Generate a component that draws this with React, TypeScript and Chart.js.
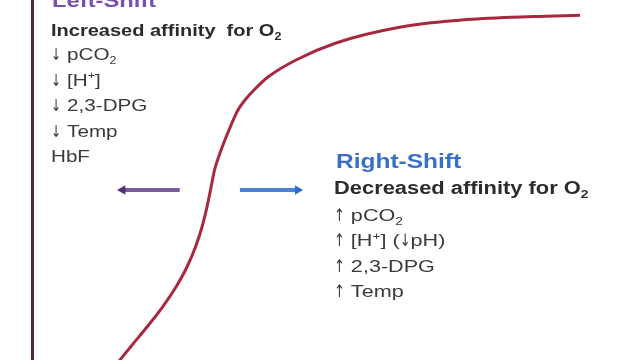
import { useEffect, useRef } from "react";
import { Chart, registerables } from "chart.js";

Chart.register(...registerables);

// Oxygen dissociation curve (cropped view), partial pressure vs saturation (%)
const pO2 = [12.83, 14.47, 16.2, 18.91, 21.46, 23.68, 25.49, 26.89, 27.96, 28.78, 29.36, 30.02, 30.92, 32.4, 33.88, 35.03, 36.51, 38.82, 43.42, 50.0, 60.69, 71.55, 82.4, 90.13];
const saturation = [-3.61, 0, 3.61, 9.17, 14.72, 20.28, 25.83, 31.39, 36.94, 42.5, 47.22, 52.78, 57.5, 63.89, 69.44, 72.22, 75.0, 78.61, 83.33, 88.06, 92.5, 94.58, 95.42, 95.75];

// Shift arrows: [tail, head] on the pO2 axis, at a common saturation level
const leftArrowX = [24.3, 14.9];
const rightArrowX = [34.2, 43.7];
const arrowLevel = 47.2;

const leftTitle = "Left-Shift";
const leftSubtitle = "Increased affinity  for O₂";
const leftItems = ["↓ pCO₂", "↓ [H⁺]", "↓ 2,3-DPG", "↓ Temp", "HbF"];

const rightTitle = "Right-Shift";
const rightSubtitle = "Decreased affinity for O₂";
const rightItems = ["↑ pCO₂", "↑ [H⁺] (↓pH)", "↑ 2,3-DPG", "↑ Temp"];

const FONT = "'Liberation Sans', Arial, sans-serif";
const SX = 1.25;

function drawRich(ctx: CanvasRenderingContext2D, text: string, x: number, y: number, size: number, weight: string, color: string) {
  ctx.save();
  ctx.translate(x, y);
  ctx.scale(SX, 1);
  ctx.fillStyle = color;
  ctx.textBaseline = "alphabetic";
  ctx.textAlign = "left";
  let cx = 0;
  const parts = text.split(/([₂⁺↑↓])/);
  for (const p of parts) {
    if (!p) continue;
    if (p === "₂" || p === "⁺") {
      const s = Math.round(size * 0.62);
      ctx.font = `${weight} ${s}px ${FONT}`;
      const ch = p === "₂" ? "2" : "+";
      const dy = p === "₂" ? size * 0.22 : -size * 0.38;
      ctx.fillText(ch, cx, dy);
      cx += ctx.measureText(ch).width;
    } else if (p === "↑" || p === "↓") {
      ctx.font = `normal ${size}px 'DejaVu Sans', sans-serif`;
      ctx.save();
      ctx.scale(0.6, 1);
      ctx.fillText(p, cx / 0.6, 0);
      ctx.restore();
      cx += ctx.measureText(p).width * 0.6;
    } else {
      ctx.font = `${weight} ${size}px ${FONT}`;
      ctx.fillText(p, cx, 0);
      cx += ctx.measureText(p).width;
    }
  }
  ctx.restore();
}

const textPlugin = {
  id: "shiftText",
  afterDatasetsDraw(chart: any) {
    const ctx = chart.ctx as CanvasRenderingContext2D;
    const lx = 51;
    drawRich(ctx, leftTitle, lx + 1, 7, 19, "bold", "#7a4fae");
    drawRich(ctx, leftSubtitle, lx, 36, 16, "bold", "#2b2b2b");
    leftItems.forEach((t, i) => drawRich(ctx, t, lx, 60 + i * 25.6, 16.5, "normal", "#3a3a3a"));
    const rx = 334;
    drawRich(ctx, rightTitle, rx + 2, 168, 19.6, "bold", "#3a6fc9");
    drawRich(ctx, rightSubtitle, rx, 194, 17.5, "bold", "#2b2b2b");
    rightItems.forEach((t, i) => drawRich(ctx, t, rx, 221 + i * 25.4, 17.3, "normal", "#3a3a3a"));
  },
};

export default function App() {
  const ref = useRef<HTMLCanvasElement>(null);
  useEffect(() => {
    if (!ref.current) return;
    const chart = new Chart(ref.current, {
      type: "line",
      data: {
        datasets: [
          {
            label: "HbO2 dissociation",
            data: pO2.map((x, i) => ({ x, y: saturation[i] })),
            borderColor: "#a8283f",
            borderWidth: 3,
            pointRadius: 0,
            cubicInterpolationMode: "monotone",
          },
          {
            label: "Left shift",
            data: leftArrowX.map((x) => ({ x, y: arrowLevel })),
            borderColor: "#7a5a98",
            backgroundColor: "#5a2d78",
            borderWidth: 4,
            pointRadius: [0, 5.5],
            pointHoverRadius: 0,
            pointStyle: "triangle",
            rotation: [0, -90],
            pointBorderWidth: 0,
          },
          {
            label: "Right shift",
            data: rightArrowX.map((x) => ({ x, y: arrowLevel })),
            borderColor: "#4a82d4",
            backgroundColor: "#2f6cc8",
            borderWidth: 4,
            pointRadius: [0, 5.5],
            pointHoverRadius: 0,
            pointStyle: "triangle",
            rotation: [0, 90],
            pointBorderWidth: 0,
          },
        ],
      },
      options: {
        animation: false,
        responsive: false,
        layout: { autoPadding: false, padding: { left: 32, right: 0, top: 0, bottom: 0 } },
        plugins: { legend: { display: false }, tooltip: { enabled: false } },
        scales: {
          x: { type: "linear", min: 0, max: 100, display: false },
          y: {
            type: "linear",
            min: 0,
            max: 100,
            display: true,
            ticks: { display: false },
            grid: { display: false, drawTicks: false },
            border: { display: true, color: "#55283a", width: 3 },
          },
        },
      },
      plugins: [textPlugin],
    } as any);
    return () => chart.destroy();
  }, []);
  return (
    <div style={{ position: "fixed", left: 0, top: 0, width: 640, height: 360, background: "#fff" }}>
      <canvas ref={ref} width={640} height={360} />
    </div>
  );
}
